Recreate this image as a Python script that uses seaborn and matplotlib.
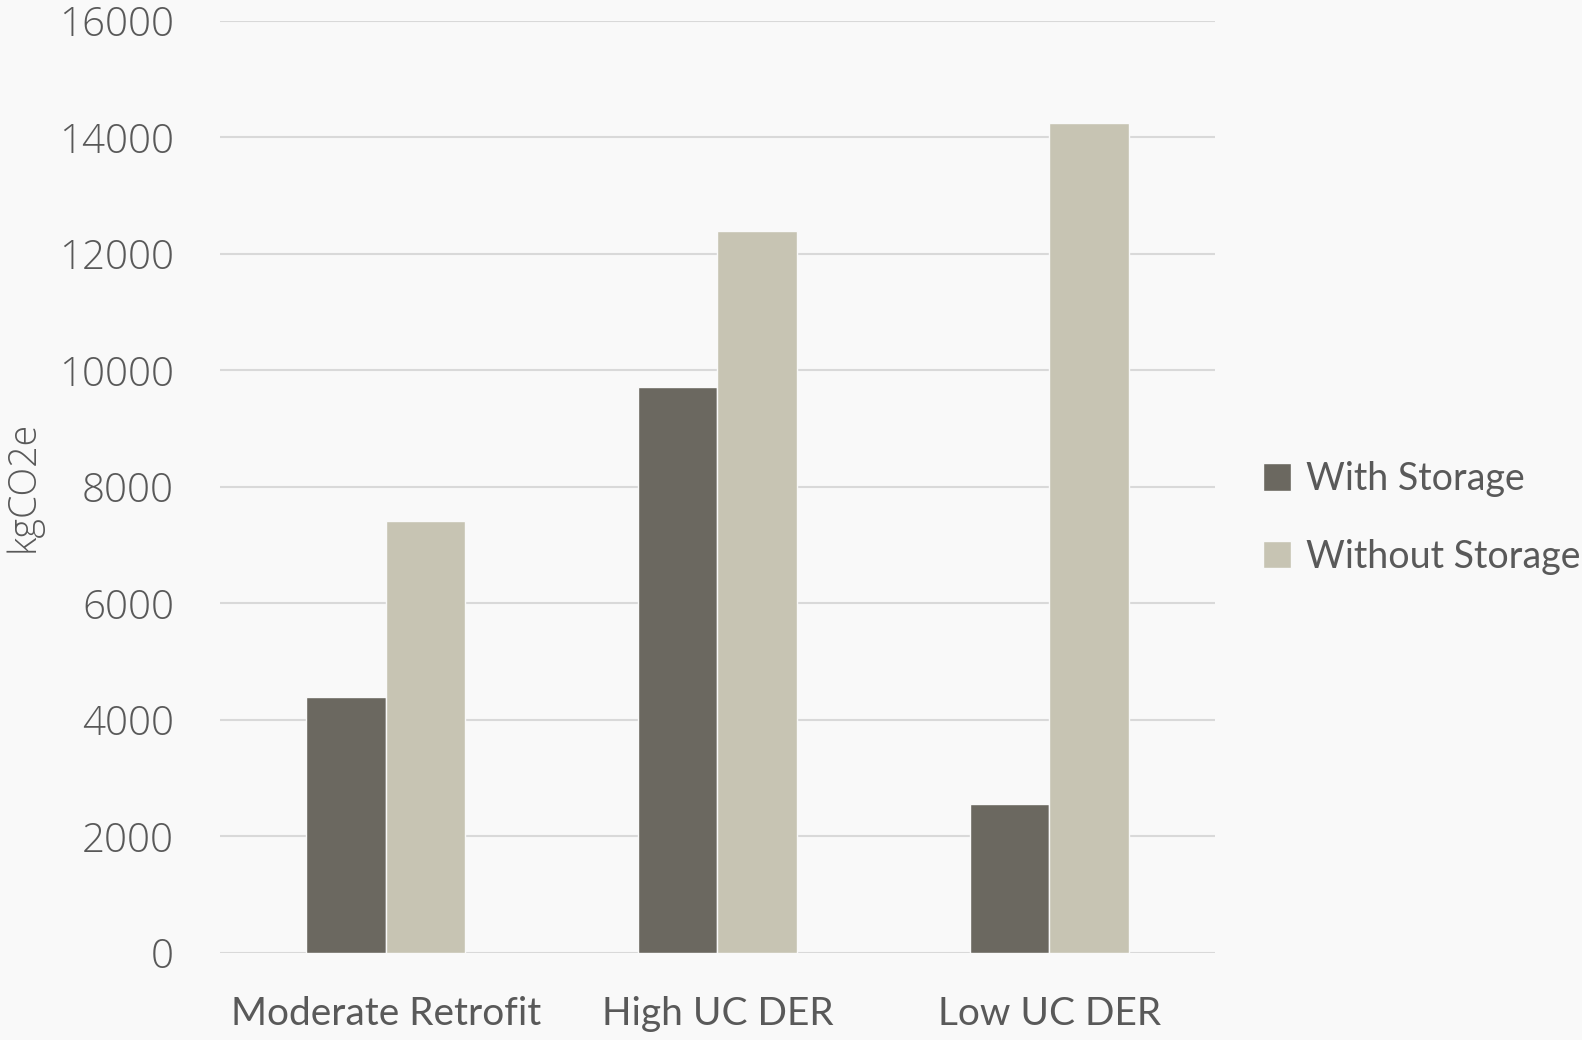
import seaborn as sns
import matplotlib.pyplot as plt
import pandas as pd

# data
scenarios = ['Moderate Retrofit', 'High UC DER', 'Low UC DER']
with_storage = [4400, 9720, 2550]
without_storage = [7420, 12400, 14250]
series_names = ['With Storage', 'Without Storage']
y_ticks = [0, 2000, 4000, 6000, 8000, 10000, 12000, 14000, 16000]

bg = '#f9f9f9'
text_col = '#595959'
palette = ['#6b6860', '#c7c4b3']

df = pd.DataFrame({
    'scenario': scenarios * 2,
    'value': with_storage + without_storage,
    'series': [series_names[0]] * 3 + [series_names[1]] * 3,
})

sns.set_theme(style='white')
plt.rcParams['font.family'] = ['Lato', 'DejaVu Sans']

fig = plt.figure(figsize=(15.82, 10.4), dpi=100, facecolor=bg)
ax = fig.add_axes([0.139, 0.0837, 0.629, 0.8963])
ax.set_facecolor(bg)

sns.barplot(data=df, x='scenario', y='value', hue='series', order=scenarios,
            hue_order=series_names, palette=palette, width=0.48,
            edgecolor=bg, linewidth=1, saturation=1, ax=ax, zorder=3)

ax.set_ylim(0, 16000)
ax.set_yticks(y_ticks)
ax.yaxis.grid(True, color='#d9d9d9', linewidth=1.5, zorder=0)
ax.set_axisbelow(True)
for s in ax.spines.values():
    s.set_visible(False)
ax.tick_params(axis='both', length=0)
ax.tick_params(axis='y', pad=33)
ax.tick_params(axis='x', pad=31)

for lbl in ax.get_yticklabels():
    lbl.set_fontfamily(['Open Sans', 'DejaVu Sans'])
    lbl.set_fontweight('light')
    lbl.set_fontsize(29)
    lbl.set_color(text_col)
    lbl.set_verticalalignment('center_baseline')
for lbl in ax.get_xticklabels():
    lbl.set_fontsize(28)
    lbl.set_color(text_col)

ax.set_xlabel('')
ax.set_ylabel('')
fig.text(0.015, 0.532, 'kgCO2e', rotation=90, ha='center', va='center',
         fontsize=27, color=text_col, fontweight='light',
         family=['Open Sans', 'DejaVu Sans'])

handles, labels = ax.get_legend_handles_labels()
ax.legend(handles, labels, loc='center left', bbox_to_anchor=(0.789, 0.502),
          bbox_transform=fig.transFigure, frameon=False,
          handlelength=0.75, handleheight=0.75, handletextpad=0.4,
          labelspacing=1.1, labelcolor=text_col, borderaxespad=0,
          prop={'size': 27})

fig.savefig('out.png', dpi=100, facecolor=bg)
